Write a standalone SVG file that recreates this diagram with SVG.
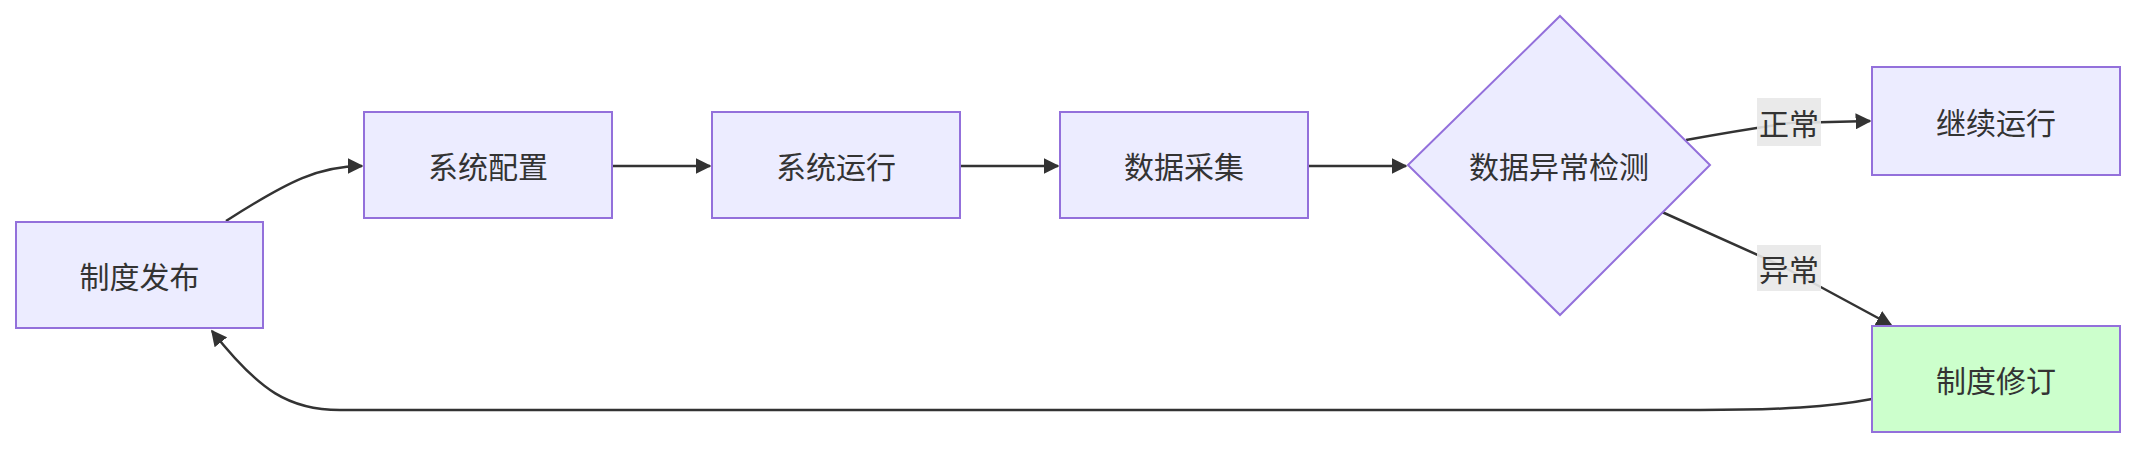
<svg xmlns="http://www.w3.org/2000/svg" width="2136" height="450" viewBox="0 0 2136 450">
<style>
.n{fill:#ECECFF;stroke:#9370DB;stroke-width:2}
.g{fill:#ccffcc}
.t{font-family:"Noto Sans CJK SC","Liberation Sans",sans-serif;font-size:30px;fill:#333;text-anchor:middle;dominant-baseline:central}
.e{fill:none;stroke:#333;stroke-width:2.5}
.lb{fill:#e8e8e8;opacity:0.9}
</style>
<defs><marker id="a" viewBox="0 0 10 10" refX="9" refY="5" markerWidth="7" markerHeight="7" markerUnits="userSpaceOnUse" orient="auto"><path d="M0,0L10,5L0,10z" fill="#333" transform="scale(1)"/></marker>
<marker id="b" viewBox="0 0 10 10" refX="9" refY="5" markerWidth="16" markerHeight="16" markerUnits="userSpaceOnUse" orient="auto"><path d="M0,0L10,5L0,10z" fill="#333"/></marker></defs>
<g id="edges">
<path class="e" d="M226,221 C290,180 320,166 362,166" marker-end="url(#b)"/>
<path class="e" d="M612,166 L710,166" marker-end="url(#b)"/>
<path class="e" d="M960,166 L1058,166" marker-end="url(#b)"/>
<path class="e" d="M1308,166 L1406,166" marker-end="url(#b)"/>
<path class="e" d="M1686,140 Q1740,130 1790,123 L1870,121" marker-end="url(#b)"/>
<path class="e" d="M1662,212 L1780,265 L1891,325" marker-end="url(#b)"/>
<path class="e" d="M1872,399 C1830,407 1780,410 1700,410 L340,410 C290,410 260,392 212,331" marker-end="url(#b)"/>
<rect class="lb" x="1757" y="98" width="64" height="48"/>
<text class="t" x="1789" y="122">正常</text>
<rect class="lb" x="1757" y="245" width="64" height="46"/>
<text class="t" x="1789" y="268">异常</text>
</g>
<g id="n1"><rect class="n" x="16" y="222" width="247" height="106"/><text class="t" x="139.5" y="275">制度发布</text></g>
<g id="n2"><rect class="n" x="364" y="112" width="248" height="106"/><text class="t" x="488" y="165">系统配置</text></g>
<g id="n3"><rect class="n" x="712" y="112" width="248" height="106"/><text class="t" x="836" y="165">系统运行</text></g>
<g id="n4"><rect class="n" x="1060" y="112" width="248" height="106"/><text class="t" x="1184" y="165">数据采集</text></g>
<g id="n5"><polygon class="n" points="1560,16 1710,165 1560,315 1408,165"/><text class="t" x="1559" y="165">数据异常检测</text></g>
<g id="n6"><rect class="n" x="1872" y="67" width="248" height="108"/><text class="t" x="1996" y="121">继续运行</text></g>
<g id="n7"><rect class="n g" x="1872" y="326" width="248" height="106"/><text class="t" x="1996" y="379">制度修订</text></g>
</svg>
